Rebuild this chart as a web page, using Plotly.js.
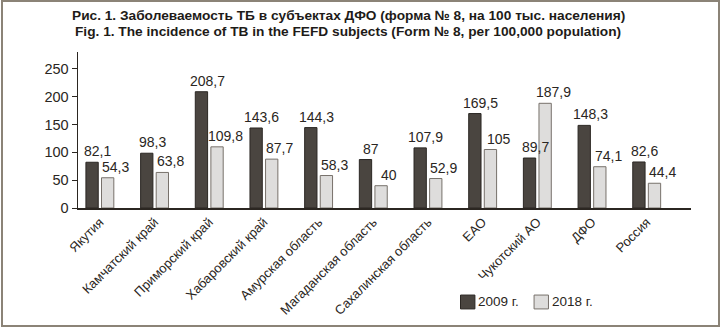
<!DOCTYPE html>
<html>
<head>
<meta charset="utf-8">
<script src="https://cdn.plot.ly/plotly-3.0.1.min.js"></script>
<style>
  html, body { margin: 0; padding: 0; background: #ffffff; }
  #wrap { position: relative; width: 720px; height: 329px; }
  #chart { width: 720px; height: 329px; }
  #frame { position: absolute; left: 1px; top: 0px; width: 715px; height: 323px;
           border: 2px solid #8b8377; pointer-events: none; box-sizing: content-box; }
</style>
</head>
<body>
<div id="wrap">
  <div id="chart"></div>
  <div id="frame"></div>
</div>
<script>
const categories = ["Якутия", "Камчатский край", "Приморский край", "Хабаровский край",
  "Амурская область", "Магаданская область", "Сахалинская область", "ЕАО",
  "Чукотский АО", "ДФО", "Россия"];
const seriesNames = ["2009 г.", "2018 г."];
const values2009 = [82.1, 98.3, 208.7, 143.6, 144.3, 87, 107.9, 169.5, 89.7, 148.3, 82.6];
const values2018 = [54.3, 63.8, 109.8, 87.7, 58.3, 40, 52.9, 105, 187.9, 74.1, 44.4];
const titleLines = [
  "Рис. 1. Заболеваемость ТБ в субъектах ДФО (форма № 8, на 100 тыс. населения)",
  "Fig. 1. The incidence of TB in the FEFD subjects (Form № 8, per 100,000 population)"
];

const FONT = "Liberation Sans, Arial, sans-serif";
const TXT = "#2a2622";
const darkFill = "#4a4540", darkLine = "#2b2723";
const lightFill = "#dedddc", lightLine = "#77716b";

function fmt(v) { return String(v).replace(".", ","); }

const traces = [
  { type: "bar", name: seriesNames[0], x: categories, y: values2009,
    marker: { color: darkFill, line: { color: darkLine, width: 1 } }, showlegend: false },
  { type: "bar", name: seriesNames[1], x: categories, y: values2018,
    marker: { color: lightFill, line: { color: lightLine, width: 1 } }, showlegend: false }
];

const annotations = [];
categories.forEach((c, i) => {
  annotations.push({ x: c, y: values2009[i], text: fmt(values2009[i]), showarrow: false,
    xanchor: "center", yanchor: "bottom", xshift: -2, yshift: 1,
    font: { family: FONT, size: 14, color: TXT } });
  annotations.push({ x: c, y: values2018[i], text: fmt(values2018[i]), showarrow: false,
    xanchor: "center", yanchor: "bottom", xshift: 16, yshift: 1,
    font: { family: FONT, size: 14, color: TXT } });
});

// title lines as annotations
const titleY = [1.235, 1.133];
titleLines.forEach((t, k) => {
  annotations.push({ xref: "paper", yref: "paper", x: 0.441, y: titleY[k],
    xanchor: "center", yanchor: "middle", showarrow: false, text: "<b>" + t + "</b>",
    font: { family: FONT, size: 13.7, color: "#1e1b18" } });
});

// manual legend (squares + labels)
const legX = [0.624, 0.744];
const legW = 0.0235;
const shapes = [];
[[darkFill, darkLine], [lightFill, lightLine]].forEach((col, k) => {
  shapes.push({ type: "rect", xref: "paper", yref: "paper",
    x0: legX[k], x1: legX[k] + legW, y0: -0.647, y1: -0.558,
    fillcolor: col[0], line: { color: col[1], width: 1 } });
  annotations.push({ xref: "paper", yref: "paper", x: legX[k] + legW + 0.002, y: -0.602,
    xanchor: "left", yanchor: "middle", showarrow: false, text: seriesNames[k],
    font: { family: FONT, size: 13.5, color: TXT } });
});

const layout = {
  width: 720, height: 329,
  margin: { l: 78, r: 29, t: 52, b: 121 },
  paper_bgcolor: "#ffffff", plot_bgcolor: "#ffffff",
  barmode: "group", bargap: 0.43, bargroupgap: 0.21,
  showlegend: false,
  xaxis: { type: "category", range: [-0.40, 10.81], showgrid: false, zeroline: false,
    showline: true, linecolor: "#2b2621", linewidth: 1.5, ticks: "",
    tickangle: -45, tickfont: { family: FONT, size: 13, color: TXT } },
  yaxis: { range: [0, 280], tickvals: [0, 50, 100, 150, 200, 250], showgrid: false,
    zeroline: false, showline: true, linecolor: "#2b2621", linewidth: 1.5,
    ticks: "outside", ticklen: 5, tickcolor: "#2b2621", tickwidth: 1,
    tickfont: { family: FONT, size: 14.5, color: TXT } },
  shapes: shapes,
  annotations: annotations
};

Plotly.newPlot("chart", traces, layout, { displayModeBar: false, staticPlot: true });
</script>
</body>
</html>
